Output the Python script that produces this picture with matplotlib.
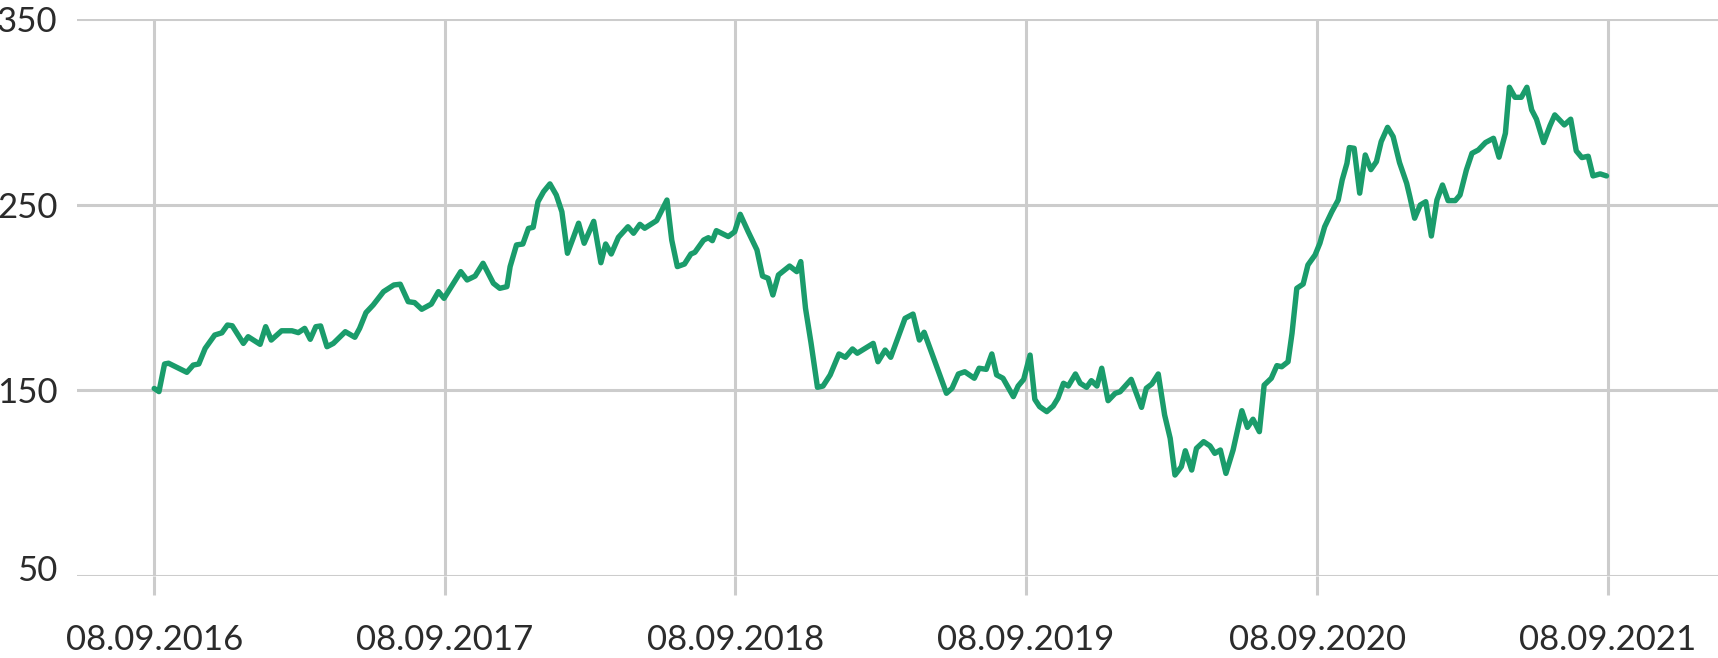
import pandas as pd
import numpy as np
import matplotlib
matplotlib.use('Agg')
import matplotlib.pyplot as plt
import matplotlib.dates as mdates
import matplotlib.transforms as mtransforms

# days since 08.09.2016 and price
days = [0, 6, 13, 18, 41, 49, 56, 64, 76, 85, 92, 98, 112, 118, 133, 140, 147, 160, 173, 181,
        189, 196, 203, 209, 217, 225, 240, 252, 258, 266, 275, 288, 301, 309, 319, 327, 336, 348, 357, 364,
        385, 393, 403, 413, 426, 434, 443, 447, 455, 463, 470, 476, 482, 489, 497, 505, 512, 519, 526, 533,
        540, 552, 561, 567, 574, 583, 595, 602, 610, 616, 631, 644, 650, 657, 666, 674, 679, 690, 696, 701,
        706, 721, 729, 736, 746, 757, 764, 771, 777, 784, 798, 807, 812, 818, 825, 833, 840, 849, 860, 868,
        877, 883, 903, 909, 918, 925, 943, 953, 961, 967, 995, 1002, 1010, 1018, 1030, 1036, 1045, 1052, 1058, 1066,
        1079, 1085, 1092, 1100, 1106, 1112, 1121, 1129, 1135, 1142, 1148, 1157, 1163, 1171, 1177, 1184, 1190, 1198, 1207, 1213,
        1227, 1240, 1246, 1253, 1261, 1269, 1276, 1282, 1290, 1295, 1303, 1309, 1318, 1326, 1332, 1339, 1346, 1355, 1366, 1373,
        1380, 1388, 1394, 1403, 1410, 1416, 1424, 1429, 1435, 1443, 1449, 1458, 1464, 1470, 1479, 1487, 1492, 1498, 1501, 1507,
        1514, 1521, 1528, 1535, 1541, 1549, 1556, 1564, 1573, 1577, 1583, 1590, 1597, 1604, 1611, 1618, 1625, 1634, 1640, 1648,
        1655, 1663, 1672, 1682, 1689, 1697, 1702, 1709, 1717, 1724, 1730, 1736, 1745, 1753, 1759, 1771, 1779, 1786, 1793, 1801,
        1807, 1816, 1824]
price = [151, 149.3, 164.2, 164.6, 159.7, 163.6, 164.2, 172.6, 179.8, 181, 185.2, 184.8, 175.3, 178.9, 174.8, 184.3, 177.1, 182.1, 182.1, 181.1,
         183.4, 177.5, 184.3, 184.7, 173.5, 175.3, 181.6, 178.6, 183.4, 191.9, 196, 203.2, 206.8, 207.2, 197.8, 197.3, 193.7, 196.5, 203.2, 199.6,
         214, 209.5, 211.6, 218.5, 207.7, 205, 205.9, 216.7, 228.4, 228.9, 237.3, 237.9, 251.7, 257.1, 261.3, 255.3, 246.3, 223.9, 231.9, 240.1,
         229.3, 241.1, 218.8, 228.9, 223.5, 232.5, 238.2, 234.7, 239.5, 237.4, 241.5, 252.6, 231, 216.7, 218.1, 223.5, 224.4, 231, 232.3, 230.7,
         236.1, 232.9, 235.5, 244.9, 235.5, 225.7, 211.6, 210.4, 201.4, 212.2, 217, 214, 219.4, 194.2, 175.3, 151.6, 152.3, 158.3, 169.6, 167.8,
         172.3, 170, 175.3, 165.4, 171.7, 167.8, 188.8, 191.1, 177.1, 181.3, 148.4, 151.1, 158.8, 160, 156.5, 161.9, 161.3, 169.6, 158.3, 156.5,
         146.6, 152.3, 155.9, 169, 145.1, 141.2, 138.5, 141.5, 145.7, 153.8, 152.3, 158.8, 153.8, 151.6, 155.2, 152.3, 161.9, 144.4, 148.4, 149.2,
         155.9, 140.8, 151.1, 153.4, 158.8, 136.7, 124.1, 104.3, 108.8, 117.4, 107, 118.7, 122.3, 120, 116, 117.8, 105.2, 117.8, 139, 130,
         134.4, 127.7, 152.8, 156.5, 163.3, 162.7, 165.4, 180.7, 205, 207.3, 217.6, 223, 229.3, 238.2, 246.3, 252.6, 263.4, 272.4, 280.9, 280.5,
         256.3, 276.9, 269, 273.3, 284.1, 291.8, 286.8, 272.8, 261.6, 254.4, 242.8, 249.9, 251.7, 233.2, 252.6, 260.7, 252.3, 252.3, 255.3, 268.8,
         277.8, 279.6, 283.6, 285.9, 275.7, 288.6, 313.4, 308, 308, 313.4, 301.2, 296.2, 283.6, 292.7, 298.5, 293.1, 296.2, 279.1, 275.5, 276.2,
         265.6, 266.7, 265.6]

tick_dates = ['2016-09-08', '2017-09-08', '2018-09-08', '2019-09-08', '2020-09-08', '2021-09-08']
y_ticks = [50, 150, 250, 350]

start = pd.Timestamp('2016-09-08')
dates = start + pd.to_timedelta(days, unit='D')
ticks = pd.to_datetime(tick_dates)

grid_c = '#cccccc'
text_c = '#2b2b2b'

fig = plt.figure(figsize=(17.18, 6.58), dpi=100)
ax = fig.add_axes([0.0448, 0.125, 0.9552, 0.8455])

ax.plot(dates, price, color='#1a9c6b', lw=3.9, solid_joinstyle='round', solid_capstyle='round', zorder=3)

ax.set_ylim(50, 350)
ax.set_xlim(start - pd.Timedelta(days=97), start + pd.Timedelta(days=1964))
ax.set_yticks(y_ticks)
ax.set_xticks(ticks)
ax.xaxis.set_major_formatter(mdates.DateFormatter('%d.%m.%Y'))

ax.grid(True, color=grid_c, lw=2.2, zorder=0)
for s in ax.spines.values():
    s.set_visible(False)

ax.tick_params(axis='x', length=14, width=2.2, color=grid_c, pad=21,
               labelsize=25, labelcolor=text_c)
ax.tick_params(axis='y', length=0, pad=14, labelsize=25, labelcolor=text_c)
for lab in ax.get_xticklabels() + ax.get_yticklabels():
    lab.set_family(['Lato', 'DejaVu Sans'])
    lab.set_fontweight('normal')

# lowest y label sits a bit above its gridline in the original
low = ax.get_yticklabels()[0]
low.set_transform(low.get_transform() + mtransforms.ScaledTranslation(0, 8 / 100, fig.dpi_scale_trans))

fig.savefig('out.png', dpi=100)
